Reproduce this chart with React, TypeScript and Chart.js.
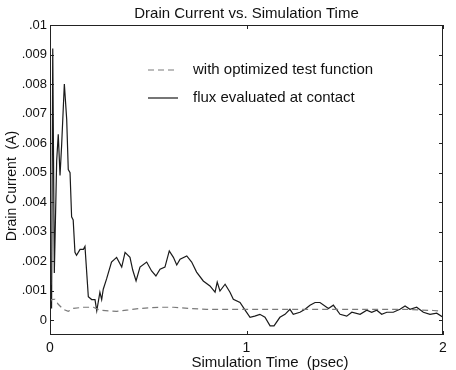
import { useEffect, useRef } from 'react';
import { Chart, registerables } from 'chart.js';

Chart.register(...registerables);

const CHART_TITLE = 'Drain Current vs. Simulation Time';
const X_TITLE = 'Simulation Time  (psec)';
const Y_TITLE = 'Drain Current  (A)';

const SERIES_NAMES = ['with optimized test function', 'flux evaluated at contact'];

// x ticks (psec) and y ticks (A)
const X_TICKS = [0, 1, 2];
const Y_TICK_VALUES = [0, 0.001, 0.002, 0.003, 0.004, 0.005, 0.006, 0.007, 0.008, 0.009, 0.01];
const Y_TICK_LABELS = ['0', '.001', '.002', '.003', '.004', '.005', '.006', '.007', '.008', '.009', '.01'];

// Current computed with the optimized test function
const optimizedTime = [
  0, 0.005, 0.025, 0.042, 0.068, 0.093, 0.119, 0.17, 0.221, 0.254, 0.339, 0.39, 0.458,
  0.56, 0.628, 0.712, 0.797, 0.967, 1.2, 1.5, 1.8, 1.95, 2,
];
const optimizedCurrent = [
  0.0003, 0.0007, 0.00071, 0.00054, 0.00037, 0.0003, 0.0004, 0.00044, 0.00044, 0.00034,
  0.0003, 0.00034, 0.0004, 0.00044, 0.00044, 0.0004, 0.00037, 0.00037, 0.00037, 0.00037,
  0.00037, 0.00033, 0.0003,
];

// Current from the flux evaluated at the contact
const fluxTime = [
  0, 0.008, 0.014, 0.022, 0.034, 0.042, 0.051, 0.059, 0.073, 0.085, 0.093, 0.102, 0.11,
  0.118, 0.127, 0.135, 0.153, 0.17, 0.178, 0.195, 0.212, 0.229, 0.238, 0.254, 0.263, 0.271,
  0.288, 0.313, 0.339, 0.365, 0.382, 0.407, 0.421, 0.438, 0.458, 0.492, 0.517, 0.539, 0.56,
  0.585, 0.607, 0.628, 0.645, 0.662, 0.696, 0.721, 0.746, 0.78, 0.814, 0.84, 0.851, 0.865,
  0.891, 0.916, 0.933, 0.967, 0.992, 1.018, 1.042, 1.068, 1.094, 1.12, 1.14, 1.17, 1.196,
  1.221, 1.238, 1.272, 1.298, 1.323, 1.349, 1.374, 1.417, 1.442, 1.476, 1.51, 1.536, 1.578,
  1.612, 1.637, 1.663, 1.688, 1.714, 1.747, 1.781, 1.807, 1.832, 1.866, 1.9, 1.934, 1.968, 2,
];
const fluxCurrent = [
  0.0015, 0.0004, 0.0092, 0.0016, 0.0054, 0.0063, 0.0049, 0.0059, 0.008, 0.0068, 0.0051,
  0.005, 0.0035, 0.0034, 0.0023, 0.0022, 0.0024, 0.0024, 0.0025, 0.0008, 0.0007, 0.0007,
  0.00032, 0.00095, 0.0007, 0.00105, 0.0014, 0.00197, 0.00213, 0.0018, 0.0023, 0.00213,
  0.0017, 0.00133, 0.0018, 0.00197, 0.00167, 0.0015, 0.00173, 0.0018, 0.00235, 0.00213,
  0.00187, 0.00207, 0.00218, 0.00197, 0.00163, 0.00133, 0.00116, 0.00095, 0.00129, 0.00099,
  0.00122, 0.00095, 0.00071, 0.0006, 0.00035, 0.0001, 0.00014, 0.0002, 0.0001, -0.00019,
  -0.00019, 0.0001, 0.0002, 0.00037, 0.0002, 0.00027, 0.00037, 0.00051, 0.0006, 0.0006,
  0.0004, 0.00051, 0.0002, 0.00014, 0.00027, 0.0002, 0.00034, 0.00027, 0.00034, 0.0002,
  0.00027, 0.00027, 0.00037, 0.00048, 0.00037, 0.00044, 0.00027, 0.0002, 0.00024, 0.0001,
];

const FONT = '"Liberation Sans", Arial, Helvetica, sans-serif';
const INK = '#111111';

const framePlugin = {
  id: 'frameAndLegend',
  afterDatasetsDraw(chart: any) {
    const { ctx, chartArea } = chart;
    const { left, right, top, bottom } = chartArea;
    const xs = chart.scales.x;
    const ys = chart.scales.y;
    ctx.save();
    ctx.strokeStyle = '#222';
    ctx.lineWidth = 1;
    ctx.strokeRect(left + 0.5, top + 0.5, right - left - 1, bottom - top - 1);
    const tl = 4;
    ctx.beginPath();
    Y_TICK_VALUES.forEach((v) => {
      const y = Math.round(ys.getPixelForValue(v)) + 0.5;
      ctx.moveTo(left, y);
      ctx.lineTo(left + tl, y);
      ctx.moveTo(right, y);
      ctx.lineTo(right - tl, y);
    });
    X_TICKS.forEach((v) => {
      const x = Math.round(xs.getPixelForValue(v)) + 0.5;
      ctx.moveTo(x, bottom);
      ctx.lineTo(x, bottom - tl);
      ctx.moveTo(x, top);
      ctx.lineTo(x, top + tl);
    });
    ctx.stroke();
    ctx.restore();
  },
  afterDraw(chart: any) {
    const { ctx, chartArea } = chart;
    const { left, top, bottom } = chartArea;
    ctx.save();
    ctx.fillStyle = INK;
    ctx.textBaseline = 'middle';

    // axis titles
    ctx.textAlign = 'center';
    ctx.font = `15px ${FONT}`;
    ctx.fillText(X_TITLE, 270, bottom + 28);
    ctx.save();
    ctx.font = `14px ${FONT}`;
    ctx.translate(12, 186);
    ctx.rotate(-Math.PI / 2);
    ctx.fillText(Y_TITLE, 0, 0);
    ctx.restore();

    // legend inside the plot
    ctx.font = `15px ${FONT}`;
    chart.data.datasets.forEach((ds: any, i: number) => {
      const y = top + 45 + i * 28;
      const x0 = left + 98;
      ctx.save();
      ctx.strokeStyle = ds.borderColor;
      ctx.lineWidth = ds.borderWidth;
      ctx.setLineDash(ds.borderDash || []);
      ctx.beginPath();
      ctx.moveTo(x0, y);
      ctx.lineTo(x0 + 30, y);
      ctx.stroke();
      ctx.restore();
      ctx.textAlign = 'left';
      ctx.fillText(ds.label, x0 + 45, y);
    });
    ctx.restore();
  },
};

export default function App() {
  const canvasRef = useRef<HTMLCanvasElement | null>(null);

  useEffect(() => {
    const canvas = canvasRef.current;
    if (!canvas) return;
    const chart = new Chart(canvas, {
      type: 'line',
      data: {
        datasets: [
          {
            label: SERIES_NAMES[0],
            data: optimizedTime.map((t, i) => ({ x: t, y: optimizedCurrent[i] })),
            borderColor: '#7a7a7a',
            borderWidth: 1.2,
            borderDash: [6, 4],
            pointRadius: 0,
            tension: 0,
          },
          {
            label: SERIES_NAMES[1],
            data: fluxTime.map((t, i) => ({ x: t, y: fluxCurrent[i] })),
            borderColor: '#1a1a1a',
            borderWidth: 1.2,
            pointRadius: 0,
            tension: 0,
          },
        ],
      },
      options: {
        animation: false,
        responsive: false,
        devicePixelRatio: 1,
        layout: { padding: { left: 0, right: 13, top: 0, bottom: 0 } },
        plugins: {
          legend: { display: false },
          tooltip: { enabled: false },
          title: {
            display: true,
            text: CHART_TITLE,
            fullSize: false,
            color: INK,
            font: { family: FONT, size: 15, weight: 'normal' },
            padding: { top: 5, bottom: 2 },
          },
        },
        scales: {
          x: {
            type: 'linear',
            min: 0,
            max: 2,
            afterBuildTicks: (scale: any) => {
              scale.ticks = X_TICKS.map((v) => ({ value: v }));
            },
            afterFit: (scale: any) => {
              scale.height = 35;
            },
            grid: { display: false, drawTicks: false },
            border: { display: false },
            ticks: {
              color: INK,
              padding: 5,
              maxRotation: 0,
              font: { family: FONT, size: 14 },
              callback: (v: any) => String(v),
            },
          },
          y: {
            type: 'linear',
            min: -0.0005,
            max: 0.01,
            afterBuildTicks: (scale: any) => {
              scale.ticks = Y_TICK_VALUES.map((v) => ({ value: v }));
            },
            afterFit: (scale: any) => {
              scale.width = 50;
            },
            grid: { display: false, drawTicks: false },
            border: { display: false },
            ticks: {
              color: INK,
              padding: 3,
              font: { family: FONT, size: 13 },
              callback: (v: any) => {
                const idx = Y_TICK_VALUES.findIndex((t) => Math.abs(t - v) < 1e-9);
                return idx >= 0 ? Y_TICK_LABELS[idx] : '';
              },
            },
          },
        },
      },
      plugins: [framePlugin],
    });
    return () => chart.destroy();
  }, []);

  return (
    <div style={{ position: 'absolute', left: 0, top: 0, width: 456, height: 370, background: '#fff' }}>
      <canvas ref={canvasRef} width={456} height={370} />
    </div>
  );
}
